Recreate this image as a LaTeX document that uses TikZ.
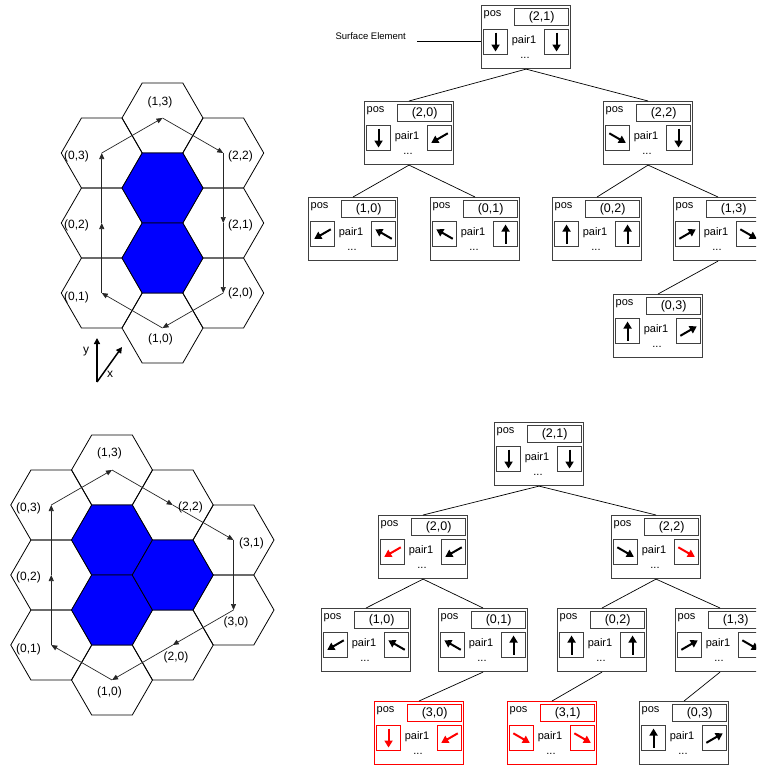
\documentclass[tikz,border=0pt]{standalone}
\usepackage{fontspec}
\setmainfont{Liberation Sans}
\usetikzlibrary{arrows.meta,calc}
\tikzset{
  pics/hexa/.style = {
    code = {
    \draw[pic actions] (0:40.5) -- (60:40.5) -- (120:40.5) -- (180:40.5) -- (240:40.5) -- (300:40.5) -- cycle;
    }
  },
  hexlbl/.style = {font=\fontsize{12}{12}\selectfont, inner sep=0pt},
  walk/.style = {draw=black!85, line width=0.7pt, -{Triangle[length=6pt,width=5pt]}},
  axis/.style = {line width=1.5pt, -{Triangle[length=6pt,width=6pt]}},
  elem/.style = {draw=black!75, line width=1.1pt, minimum width=89pt, minimum height=63pt, inner sep=0pt},
  posbox/.style = {line width=0.9pt, minimum width=54pt, minimum height=17pt, inner sep=0pt, font=\fontsize{12.5}{12.5}\selectfont},
  dirbox/.style = {line width=1.1pt, minimum width=24pt, minimum height=25pt, inner sep=0pt},
  dirarr/.style = {line width=2pt, -{Triangle[length=7pt,width=8pt]}},
  small/.style = {font=\fontsize{11}{11}\selectfont, inner sep=0pt},
  link/.style = {draw=black, line width=0.7pt}
}
% name, left, top, label, left dir, left colour, right dir, right colour, frame colour
\newcommand{\surfel}[9]{%
  \node[elem, draw=#9, anchor=north west] (#1) at (#2,#3) {};
  \node[posbox, draw=#9, anchor=north east] (#1-pos) at ([xshift=-2pt,yshift=-3pt]#1.north east) {#4};
  \node[small] (#1-t) at ([xshift=11.5pt,yshift=-10pt]#1.north west) {pos};
  \node[small] (#1-p) at ([xshift=43pt,yshift=-36pt]#1.north west) {pair1};
  \node[small] (#1-d) at ([xshift=44pt,yshift=-53pt]#1.north west) {...};
  \node[dirbox, draw=#9, anchor=north west] (#1-a) at ([xshift=2pt,yshift=-24pt]#1.north west) {};
  \node[dirbox, draw=#9, anchor=north east] (#1-b) at ([xshift=-2pt,yshift=-24pt]#1.north east) {};
  \draw[dirarr, color=#6] ([shift={(#5+180:9.5pt)}]#1-a.center) -- ([shift={(#5:9.5pt)}]#1-a.center);
  \draw[dirarr, color=#8] ([shift={(#7+180:9.5pt)}]#1-b.center) -- ([shift={(#7:9.5pt)}]#1-b.center);
}

\begin{document}
\begin{tikzpicture}[x=1pt, y=-1pt]
\useasboundingbox (0,0) rectangle (756,766);
\clip (0,0) rectangle (756,766);

% upper grid
\foreach \x/\y in {101.75/153, 101.75/223, 101.75/293, 162.5/118, 162.5/328, 223.25/153, 223.25/223, 223.25/293}{
  \pic[line width=0.8pt] at (\x,\y) {hexa};
}
\foreach \y in {188,258}{
  \pic[fill=blue, line width=0.8pt] at (162.5,\y) {hexa};
}
\foreach \n/\x/\y in {u01/101.75/293, u02/101.75/223, u03/101.75/153, u13/162.5/118, u22/223.25/153, u21/223.25/223, u20/223.25/293, u10/162.5/328}
  \coordinate (\n) at (\x,\y);
\foreach \s/\e in {u01/u02, u02/u03, u03/u13, u13/u22, u22/u21, u21/u20, u20/u10, u10/u01}
  \draw[walk] (\s) -- (\e);
\foreach \a/\b/\x/\y in {1/3/160/102, 0/3/76.5/156, 0/2/76.5/225, 0/1/76.5/297, 2/2/240.5/156, 2/1/240.5/225, 2/0/240.5/293, 1/0/160.5/339}
  \node[hexlbl] (ul\a\b) at (\x,\y) {(\a,\b)};

% axes
\coordinate (orig) at (97,382);
\coordinate (yend) at (97,338);
\coordinate (xend) at (122,347);
\draw[axis] (orig) -- (yend);
\draw[axis] (orig) -- (xend);
\node[hexlbl] (ylbl) at (86,352) {y};
\node[hexlbl] (xlbl) at (110,374) {x};

% lower grid
\foreach \x/\y in {51.25/505, 51.25/575, 51.25/645, 112/470, 112/680, 172.75/505, 172.75/645, 233.5/540, 233.5/610}{
  \pic[line width=0.8pt] at (\x,\y) {hexa};
}
\foreach \x/\y in {112/540, 112/610, 172.75/575}{
  \pic[fill=blue, line width=0.8pt] at (\x,\y) {hexa};
}
\foreach \n/\x/\y in {w01/51.25/645, w02/51.25/575, w03/51.25/505, w13/112/470, w22/172.75/505, w31/233.5/540, w30/233.5/610, w20/172.75/645, w10/112/680}
  \coordinate (\n) at (\x,\y);
\foreach \s/\e in {w01/w02, w02/w03, w03/w13, w13/w22, w22/w31, w31/w30, w30/w20, w20/w10, w10/w01}
  \draw[walk] (\s) -- (\e);
\foreach \a/\b/\x/\y in {1/3/109.5/453, 0/3/28.5/508, 0/2/28.5/577, 0/1/28.5/649, 2/2/190.5/507, 3/1/251.5/543, 3/0/236/622, 2/0/176/657, 1/0/109.5/692}
  \node[hexlbl] (wl\a\b) at (\x,\y) {(\a,\b)};

% upper tree
\surfel{t21}{481}{5}{(2,1)}{-90}{black}{-90}{black}{black!75}
\surfel{t20}{364}{101}{(2,0)}{-90}{black}{210}{black}{black!75}
\surfel{t22}{603}{101}{(2,2)}{-30}{black}{-90}{black}{black!75}
\surfel{t10}{308}{197}{(1,0)}{210}{black}{150}{black}{black!75}
\surfel{t01}{430}{197}{(0,1)}{150}{black}{90}{black}{black!75}
\surfel{t02}{552}{197}{(0,2)}{90}{black}{90}{black}{black!75}
\surfel{t13}{673}{197}{(1,3)}{30}{black}{-30}{black}{black!75}
\surfel{t03}{613}{294}{(0,3)}{90}{black}{30}{black}{black!75}
\foreach \s/\e in {t21/t20, t21/t22, t20/t10, t20/t01, t22/t02, t22/t13, t13/t03}
  \draw[link] (\s.south) -- (\e.north);

\node[font=\fontsize{9.5}{9.5}\selectfont, inner sep=0pt, anchor=east] (sellbl) at (406,36) {Surface Element};
\coordinate (selend) at (417,41);
\draw[link] (selend) -- (selend -| t21.west);

% lower tree
\surfel{b21}{494}{422}{(2,1)}{-90}{black}{-90}{black}{black!75}
\surfel{b20}{378}{515}{(2,0)}{210}{red}{210}{black}{black!75}
\surfel{b22}{611}{515}{(2,2)}{-30}{black}{-30}{red}{black!75}
\surfel{b10}{321}{608}{(1,0)}{210}{black}{150}{black}{black!75}
\surfel{b01}{438}{608}{(0,1)}{150}{black}{90}{black}{black!75}
\surfel{b02}{557}{608}{(0,2)}{90}{black}{90}{black}{black!75}
\surfel{b13}{675}{608}{(1,3)}{30}{black}{-30}{black}{black!75}
\surfel{b30}{374}{701}{(3,0)}{-90}{red}{210}{red}{red}
\surfel{b31}{507}{701}{(3,1)}{-30}{red}{-30}{red}{red}
\surfel{b03}{639}{701}{(0,3)}{90}{black}{30}{black}{black!75}
\foreach \s/\e in {b21/b20, b21/b22, b20/b10, b20/b01, b22/b02, b22/b13, b01/b30, b02/b31, b13/b03}
  \draw[link] (\s.south) -- (\e.north);

\end{tikzpicture}
\end{document}
